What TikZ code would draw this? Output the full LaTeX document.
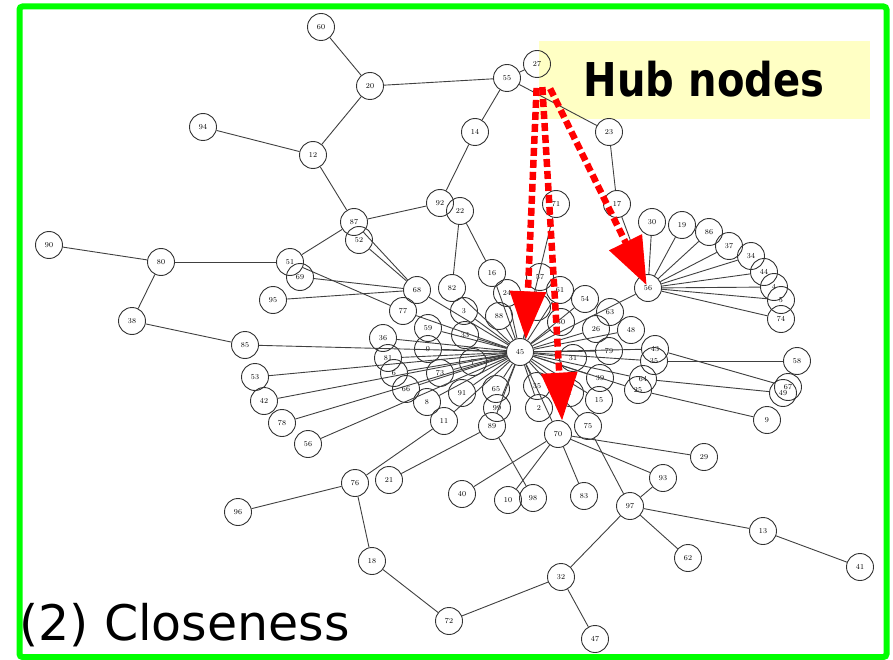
\documentclass[tikz,border=0pt]{standalone}
\usepackage{fontspec}
\usetikzlibrary{arrows.meta}
\newfontfamily\hubfont[FakeStretch=0.86]{DejaVu Sans Bold}
\newfontfamily\capfont{DejaVu Sans}
\definecolor{frameg}{RGB}{0,255,0}
\definecolor{hubyellow}{RGB}{255,255,196}
\definecolor{hubred}{RGB}{255,0,0}
\begin{document}
\begin{tikzpicture}[x=1pt,y=-1pt,
  vtx/.style={circle, draw=black!80, line width=0.9pt, minimum size=27pt, inner sep=0pt, font=\fontsize{7.6}{7.6}\selectfont},
  edge/.style={draw=black!75, line width=0.9pt},
  hubarrow/.style={draw=hubred, line width=6.5pt, dash pattern=on 8pt off 4pt, -{Triangle[length=48pt,width=35pt]}}]
\useasboundingbox (0,0) rectangle (893,660);
% yellow label background
\fill[hubyellow] (539,41) rectangle (870,119);
% vertices
\foreach \n/\x/\y/\t in {
 60/321/27/60, 20/370/86/20, 55/507/78/55, 27/537/64/27, 94/203/127/94,
 12/313/155/12, 14/475/132/14, 23/609/132/23, 92/440/203/92, 22/460/211/22,
 71/556/204/71, 17/617/204/17, 87/354/222/87, 52/359/240/52, 30/652/222/30,
 19/682/225/19, 86/709/232/86, 37/729/246/37, 34/751/256/34, 44/764/272/44,
 4/774/287/4, 5/781/300/5, 74/781/319/74, 90/49/245/90, 80/161/262/80,
 51/290/262/51, 69/300/277/69, 16/492/273/16, 57/540/277/57, 61/560/290/61,
 54/585/299/54, 56/648/288/56, 95/273/300/95, 68/417/290/68, 82/452/288/82,
 3/464/311/3, 88/499/316/88, 24/507/293/24, 77/403/311/77, 63/610/312/63,
 26/596/329/26, 48/631/330/48, 38/132/321/38, 85/245/345/85, 36/383/338/36,
 59/428/328/59, 33/465/335/33, 50/561/322/50, 1/537/307/1, 45/520/352/45,
 0/428/349/0, 81/388/358/81, 7/473/362/7, 73/440/373/73, 6/394/373/6,
 66/406/389/66, 8/427/402/8, 91/462/393/91, 65/496/389/65, 99/497/408/99,
 89/492/426/89, 11/444/421/11, 53/255/377/53, 42/264/401/42, 78/282/423/78,
 56L/308/444/56, 35b/537/386/35, 2/539/408/2, 31/573/358/31, 79/609/351/79,
 43/655/349/43, 35/654/361/35, 39/600/378/39, 64/643/379/64, 25/638/390/25,
 15/599/400/15, 1b/570/393/1, 75/588/426/75, 70/558/434/70, 58/797/361/58,
 67/788/387/67, 49/783/393/49, 9/767/420/9, 29/704/457/29, 93/663/478/93,
 97/630/506/97, 13/763/531/13, 62/688/558/62, 41/860/567/41, 76/355/483/76,
 21/389/480/21, 40/462/494/40, 10/508/500/10, 98/533/498/98, 83/584/496/83,
 96/238/512/96, 18/372/561/18, 32/561/577/32, 72/449/621/72, 47/595/639/47}
 \node[vtx] (n\n) at (\x,\y) {\t};
% edges
\foreach \a/\b in {60/20, 20/12, 20/55, 55/27, 55/14, 55/23, 94/12, 12/87, 14/92,
 92/87, 22/82, 22/16, 23/17, 17/56, 71/45, 87/51, 87/68, 52/68, 90/80, 80/51,
 80/38, 38/85, 51/77, 69/68, 95/68,
 56/30, 56/19, 56/86, 56/37, 56/34, 56/44, 56/4, 56/5, 56/74, 56/45,
 45/85, 45/53, 45/42, 45/78, 45/56L, 45/36, 45/59, 45/0, 45/81, 45/6, 45/66,
 45/8, 45/91, 45/73, 45/7, 45/33, 45/3, 45/88, 45/24, 45/16, 45/82, 45/68,
 45/77, 45/1, 45/57, 45/61, 45/54, 45/50, 45/26, 45/48, 45/79, 45/31, 45/43,
 45/35, 45/39, 45/64, 45/25, 45/15, 45/75, 45/70, 45/2, 45/35b, 45/65, 45/99,
 45/89, 45/11, 45/1b,
 35/58, 43/67, 64/49, 25/9,
 70/29, 70/93, 70/40, 70/10, 70/83, 75/97, 89/98, 97/93, 97/13, 97/62, 97/32,
 13/41, 32/72, 32/47, 72/18, 18/76, 76/96, 76/11, 21/89}
 \draw[edge] (n\a) -- (n\b);
% hub arrows
\draw[hubarrow, shorten <=10pt] (n27.south) -- (n45.65);
\draw[hubarrow, shorten <=10pt] (n27.-70) -- (n70.73);
\draw[hubarrow, shorten <=14pt, shorten >=3pt] (n27.-60) -- (n56.center);
% labels
\node[anchor=base, inner sep=0pt, font=\hubfont\fontsize{46.6}{46.6}\selectfont] (hub) at (704,97) {Hub nodes};
\node[anchor=base west, inner sep=0pt, font=\capfont\fontsize{49}{49}\selectfont] (cap) at (19,640) {(2) Closeness};
% frame
\draw[frameg, line width=6pt, rounded corners=3pt] (19.5,6.5) rectangle (886.5,657);
\end{tikzpicture}
\end{document}
